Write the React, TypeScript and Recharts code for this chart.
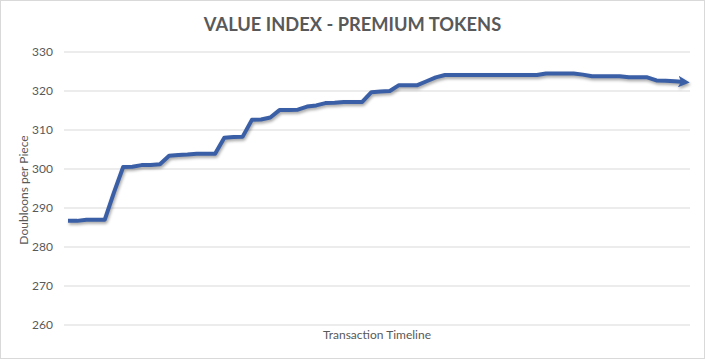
import React from 'react';
import { LineChart, Line, XAxis, YAxis, CartesianGrid } from 'recharts';

const title = 'VALUE INDEX - PREMIUM TOKENS';
const yAxisTitle = 'Doubloons per Piece';
const xAxisTitle = 'Transaction Timeline';
const yTicks = [260, 270, 280, 290, 300, 310, 320, 330];

const values = [
  286.7, 286.7, 287, 287, 287, 294, 300.5, 300.6, 301, 301,
  301.2, 303.4, 303.6, 303.7, 303.9, 303.9, 303.9, 308, 308.2, 308.3,
  312.6, 312.7, 313.2, 315.1, 315.1, 315.2, 316, 316.3, 316.9, 317,
  317.2, 317.2, 317.2, 319.7, 319.9, 320, 321.5, 321.5, 321.5, 322.5,
  323.5, 324.1, 324.1, 324.1, 324.1, 324.1, 324.1, 324.1, 324.1, 324.1,
  324.1, 324.1, 324.5, 324.5, 324.5, 324.5, 324.2, 323.8, 323.8, 323.8,
  323.8, 323.5, 323.5, 323.5, 322.7, 322.6, 322.5, 322.3,
];

const data = values.map((v, i) => ({ t: i + 1, v }));

const FONT = 'Lato, "Open Sans", sans-serif';
const GREY = '#595959';
const BLUE = '#3A5FA6';

export default function App() {
  return (
    <div style={{ position: 'absolute', left: 0, top: 0, width: 705, height: 359, background: '#fff' }}>
      <style>{`body{margin:0} .recharts-line-curve{filter:drop-shadow(1px 2px 1.5px rgba(0,0,0,0.35));}`}</style>
      <div
        style={{
          position: 'absolute', left: 0, top: 0, width: 705, height: 359,
          border: '1px solid #d9d9d9', boxSizing: 'border-box',
        }}
      />
      <div
        style={{
          position: 'absolute', left: 0, top: 12, width: 705, textAlign: 'center',
          fontFamily: FONT, fontWeight: 700, fontSize: 18.3, color: GREY, lineHeight: '24px',
        }}
      >
        {title}
      </div>
      <LineChart
        width={705}
        height={359}
        data={data}
        margin={{ top: 52, right: 15, bottom: 0, left: 0 }}
        style={{ position: 'absolute', left: 0, top: 0 }}
      >
        <defs>
          <marker id="arrowEnd" viewBox="0 0 10 10" refX="5" refY="5" markerWidth="2.9" markerHeight="2.9" orient="auto" markerUnits="strokeWidth">
            <path d="M0,0 L10,5 L0,10 L2.5,5 z" fill={BLUE} />
          </marker>
        </defs>
        <CartesianGrid vertical={false} stroke="#d9d9d9" strokeWidth={1} />
        <XAxis
          dataKey="t"
          tick={false}
          tickLine={false}
          axisLine={false}
          height={34}
          padding={{ left: 4, right: 6 }}
          label={{
            content: () => (
              <text x={377} y={339} textAnchor="middle" fontFamily={FONT} fontSize={12} fill={GREY}>
                {xAxisTitle}
              </text>
            ),
          }}
        />
        <YAxis
          domain={[260, 330]}
          ticks={yTicks}
          interval={0}
          width={64}
          tickLine={false}
          axisLine={false}
          tickMargin={5}
          tick={{ fontFamily: FONT, fontSize: 12, fill: GREY }}
          label={{
            content: () => (
              <text x={28} y={190} transform="rotate(-90 28 190)" textAnchor="middle" fontFamily={FONT} fontSize={12} fill={GREY}>
                {yAxisTitle}
              </text>
            ),
          }}
        />
        <Line
          type="linear"
          dataKey="v"
          stroke={BLUE}
          strokeWidth={4}
          dot={false}
          activeDot={false}
          strokeLinejoin="round"
          markerEnd="url(#arrowEnd)"
          isAnimationActive={false}
        />
      </LineChart>
    </div>
  );
}
